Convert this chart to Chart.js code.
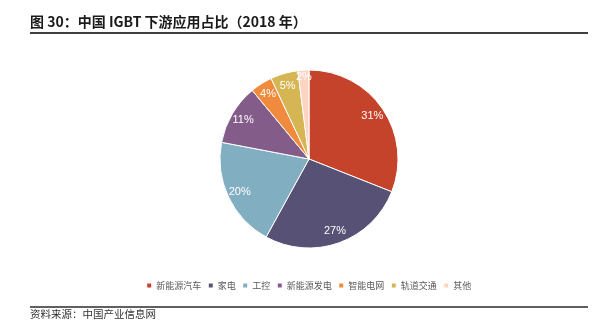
<!DOCTYPE html>
<html>
<head>
<meta charset="utf-8">
<script src="https://cdn.jsdelivr.net/npm/chart.js@4/dist/chart.umd.min.js"></script>
<style>
  html, body { margin: 0; padding: 0; background: #fff; }
  #wrap { position: relative; width: 602px; height: 328px; overflow: hidden; }
  #title { position: absolute; left: 30px; top: 11px; font-family: "Noto Sans CJK SC", sans-serif; font-weight: bold; font-size: 14px; color: #1a1a1a; white-space: nowrap; line-height: 20px; }
  #topline { position: absolute; left: 30px; top: 32px; width: 558px; height: 2px; background: #404040; }
  #botline { position: absolute; left: 30px; top: 306px; width: 558px; height: 2px; background: #606060; }
  #source { position: absolute; left: 30px; top: 306px; font-family: "Noto Sans CJK SC", sans-serif; font-size: 10.5px; color: #333; white-space: nowrap; line-height: 16px; }
  #c { position: absolute; left: 0; top: 0; }
</style>
</head>
<body>
<div id="wrap">
  <canvas id="c" width="602" height="328"></canvas>
  <div id="title">图 30：中国 IGBT 下游应用占比（2018 年）</div>
  <div id="topline"></div>
  <div id="botline"></div>
  <div id="source">资料来源：中国产业信息网</div>
</div>
<script>
const categories = ["新能源汽车", "家电", "工控", "新能源发电", "智能电网", "轨道交通", "其他"];
const shares = [31, 27, 20, 11, 4, 5, 2];
const sliceColors = ["#C5432A", "#565175", "#82AEC2", "#845C8A", "#F08A3C", "#D6B654", "#FDD3C4"];

const pctLabels = {
  id: 'pctLabels',
  afterDatasetsDraw(chart) {
    const ctx = chart.ctx;
    const meta = chart.getDatasetMeta(0);
    ctx.save();
    ctx.fillStyle = '#ffffff';
    ctx.font = '11px "Liberation Sans", Arial, sans-serif';
    ctx.textAlign = 'center';
    ctx.textBaseline = 'middle';
    meta.data.forEach((arc, i) => {
      const p = arc.getProps(['x', 'y', 'startAngle', 'endAngle', 'outerRadius'], true);
      const mid = (p.startAngle + p.endAngle) / 2;
      const r = p.outerRadius * (i === 6 ? 0.92 : 0.86);
      ctx.fillText(shares[i] + '%', p.x + Math.cos(mid) * r, p.y + Math.sin(mid) * r);
    });
    ctx.restore();
  }
};

new Chart(document.getElementById('c'), {
  type: 'pie',
  data: {
    labels: categories,
    datasets: [{
      data: shares,
      backgroundColor: sliceColors,
      borderColor: '#ffffff',
      borderWidth: 1,
      radius: 89
    }]
  },
  options: {
    responsive: false,
    animation: false,
    layout: { padding: { top: 44, bottom: 28, left: 16, right: 0 } },
    plugins: {
      tooltip: { enabled: false },
      legend: {
        position: 'bottom',
        labels: {
          boxWidth: 5,
          boxHeight: 5,
          padding: 7,
          color: '#595959',
          font: { size: 9, family: '"Noto Sans CJK SC", sans-serif' }
        }
      }
    }
  },
  plugins: [pctLabels]
});
</script>
</body>
</html>
